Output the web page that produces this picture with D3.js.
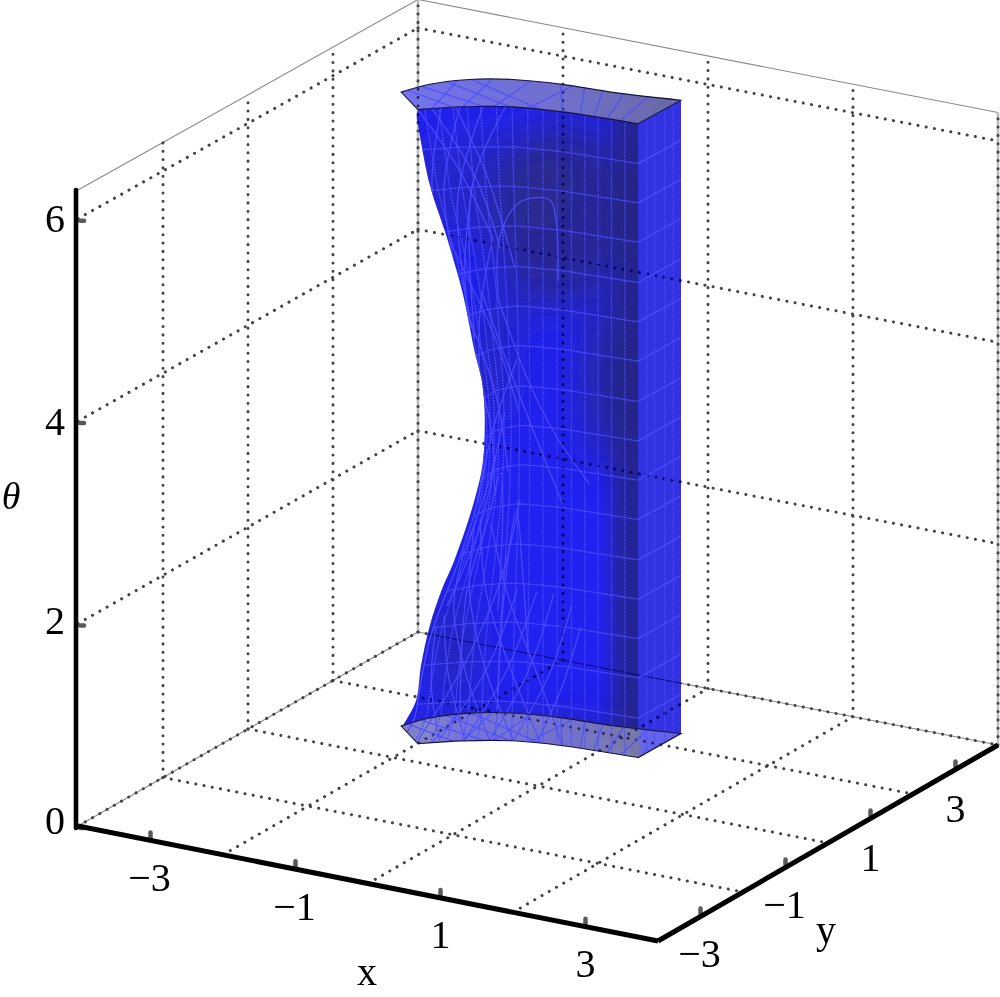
<!DOCTYPE html>
<html><head><meta charset="utf-8">
<script src="https://cdn.jsdelivr.net/npm/d3@7/dist/d3.min.js"></script>
<style>html,body{margin:0;padding:0;background:#fff;overflow:hidden}svg{display:block}text{font-family:"Liberation Serif","Times New Roman",serif;fill:#000}</style>
</head><body><svg id="c" width="1000" height="997"></svg>
<script>
// ---- data ----
const xTicks=[-3,-1,1,3], yTicks=[-3,-1,1,3], zTicks=[0,2,4,6];
const xGrid=[-2,0,2], yGrid=[-2,0,2], zGrid=[2,4,6];
const zMax=6.283, thetaMax=6.285;
// cross section of the solid (x,y), read from the end faces
const backX=[-2.48,-2.33,-2.01,-1.57,-0.97,-0.31,0.53];
const backY=[1.01,1.43,1.82,2.08,2.23,2.29,2.46];
const frontU=[0,0.2,0.43,0.66,1];
const frontX=[-1.99,-1.58,-1.07,-0.47,0.52];
const frontY=[0.57,0.93,1.23,1.38,1.47];
// left silhouette (theta, x at y=1)
const silTheta=[0,0.28,0.64,1.05,1.42,1.74,2.34,2.76,3.22,3.58,3.86,4.40,4.93,5.43,6.075];
const silX=[-2.46,-2.27,-2.20,-2.08,-1.92,-1.745,-1.48,-1.35,-1.32,-1.36,-1.46,-1.62,-1.84,-2.08,-2.26];
// wire-frame
const rowTheta=[0.39,0.79,1.18,1.57,1.96,2.36,2.75,3.14,3.53,3.93,4.32,4.71,5.11,5.50,5.89];
const colU=[0.05,0.11,0.17,0.23,0.29,0.36,0.43,0.50,0.57,0.635,0.70,0.76,0.82,0.88,0.94];
const sideV=[0.2,0.38,0.62,0.82];
const chords=[
 [[.12,6.28],[.02,5.5],[0,4.9]],[[.2,6.28],[.08,5.5],[.02,4.6]],[[.3,6.28],[.14,5.4],[.04,4.2]],[[.4,6.28],[.22,5.5],[.06,4.1]],
 [[.02,6.28],[.16,5.7],[.3,5.0]],[[.08,6.28],[.24,5.6],[.34,4.9]],[[.18,6.28],[.3,5.6],[.42,4.7]],
 [[.34,2.7],[.2,3.5],[.02,4.4]],[[.22,2.5],[.12,3.2],[.01,3.8]],[[.42,3.3],[.26,4.0],[.04,5.0]],
 [[.02,1.9],[.14,2.7],[.3,3.3]],[[.02,2.5],[.16,3.2],[.42,3.8]],[[.04,1.4],[.12,2.2],[.2,2.9]],
 [[.02,3.7],[.14,4.3],[.3,5.0]],[[.02,4.2],[.1,4.8],[.22,5.5]],
 [[.3,4.4],[.48,3.63],[.62,3.1],[.78,2.64]],[[.18,4.5],[.36,3.7],[.52,3.1],[.66,2.4]],
 [[.06,0],[.2,.8],[.34,1.6],[.44,2.4]],[[.14,0],[.3,.7],[.44,1.5]],[[.24,0],[.4,.7],[.54,1.5]],[[.34,0],[.5,.7],[.62,1.5]],[[.44,0],[.6,.7],[.7,1.4]],[[.54,0],[.66,.6],[.74,1.2]],
 [[.44,0],[.3,.7],[.16,1.5],[.04,2.3]],[[.34,0],[.2,.7],[.08,1.4],[.02,2.0]],[[.56,0],[.42,.7],[.26,1.5],[.1,2.3]],[[.66,0],[.54,.7],[.4,1.4],[.22,2.2]],[[.24,0],[.12,.7],[.04,1.3]],[[.14,0],[.05,.6],[.01,1.2]],
 [[.2,.2],[.14,1.5],[.18,2.2],[.27,2.7],[.32,2.2],[.34,1.3]],[[.36,.3],[.37,1.6],[.42,2.3],[.46,1.8],[.5,.9]],
 [[.3,4.4],[.34,5.0],[.46,5.35],[.6,5.4],[.63,5.2],[.64,4.6]]
];
const faceChords=[[.06,.28],[.16,.04],[.2,.42],[.3,.12],[.34,.56],[.42,.24],[.5,.7],[.56,.34],[.66,.66],[.74,.74],[.8,.8],[.86,.86],[.92,.92]];
// shading blobs on the face: u, theta, rx, ry, opacity
const shade=[[.68,5.3,75,90,.75],[.88,3.7,28,85,.7],[.3,5.5,90,55,.3],[.2,3.8,16,60,.6],[.13,.95,14,55,.8],[.5,.05,130,16,.55],[.46,4.5,30,40,.3]];
const zLabelShift=[7.5,10.5,13.5,13.5];

// ---- scales ----
const xH=d3.scaleLinear([-4,4],[78,658]), xV=d3.scaleLinear([-4,4],[826,941]);
const yH=d3.scaleLinear([-4,4],[0,340]),  yV=d3.scaleLinear([-4,4],[0,-194]);
const zV=d3.scaleLinear([0,zMax],[0,-636]);
const yShrink=d3.scaleLinear([-4,4],[1,0.9945]);
const yFrac=d3.scaleLinear([-4,4],[0,1]), xCross=d3.scaleLinear([-4,4],[0,-2]);
const P=(x,y,z)=>[xH(x)+yH(y), xV(x)+yV(y)+xCross(x)*yFrac(y)+zV(z)*yShrink(y)];
const fx=d3.scaleLinear(frontU,frontX), fy=d3.scaleLinear(frontU,frontY);
const sil=d3.scaleLinear(silTheta,silX);
const warp=u=>Math.pow(Math.max(0,1-u/0.55),1.5);
const surf=(u,t)=>{const o=(sil(t)+.25+1.99)*warp(u);return P(fx(u)+o,fy(u),t)};
const line=d3.line(), smooth=d3.line().curve(d3.curveCatmullRom);
const svg=d3.select("#c"), defs=svg.append("defs");

// ---- outline pieces ----
const backU=backX.map((_,i)=>i/(backX.length-1));
const frontPts=t=>frontU.map((_,i)=>P(frontX[i],frontY[i],t));
const backPts=t=>backX.map((_,i)=>P(backX[i],backY[i],t));
const join=(...segs)=>segs.map((s,i)=>{const d=smooth(s);return i?d.replace(/^M/,"L"):d}).join("");
const silPts=silTheta.map((t,i)=>P(silX[i],1,t));
const bodyD=join(frontPts(thetaMax),[backPts(thetaMax)[6],backPts(0)[6]],backPts(0).slice().reverse(),silPts,[silPts[silPts.length-1],frontPts(thetaMax)[0]])+"Z";
const faceD=t=>join(backPts(t),[backPts(t)[6],frontPts(t)[4]],frontPts(t).slice().reverse(),[frontPts(t)[0],backPts(t)[0]])+"Z";
const frontFaceD=join(frontPts(thetaMax),[frontPts(thetaMax)[4],frontPts(0)[4]],[frontPts(0)[4],backPts(0)[4]],backPts(0).slice(0,5).reverse(),silPts,[silPts[silPts.length-1],frontPts(thetaMax)[0]])+"Z";
const corner=(t)=>P(frontX[4],frontY[4],t), cornerB=(t)=>P(backX[6],backY[6],t);
const sideD=line([corner(thetaMax),cornerB(thetaMax),cornerB(0),corner(0)])+"Z";

defs.append("clipPath").attr("id","bodyClip").append("path").attr("d",bodyD);
defs.append("clipPath").attr("id","allClip").selectAll("path").data([bodyD,faceD(0),faceD(thetaMax)]).join("path").attr("d",d=>d);
defs.append("clipPath").attr("id","frontClip").append("path").attr("d",frontFaceD);
const blur=defs.append("filter").attr("id","blur").attr("x","-60%").attr("y","-60%").attr("width","220%").attr("height","220%");
blur.append("feGaussianBlur").attr("stdDeviation",20);
const grad=(id,x1,x2,stops)=>{const g=defs.append("linearGradient").attr("id",id).attr("gradientUnits","userSpaceOnUse").attr("x1",x1).attr("x2",x2).attr("y1",0).attr("y2",0);
 stops.forEach(s=>g.append("stop").attr("offset",s[0]).attr("stop-color",s[1]).attr("stop-opacity",s[2]==null?1:s[2]));};
grad("topG",401,682,[[0,"#6f6fee"],[.3,"#6b6bdb"],[.6,"#6a6ac8"],[1,"#63639f"]]);
grad("botG",401,682,[[0,"#7878c8"],[.1,"#8080c4"],[.2,"#6f6fd8"],[.6,"#6c6cc8"],[.84,"#7a7aa8"],[.86,"#6666ee"],[1,"#6363f2"]]);
grad("bandG",600,640,[[0,"#25257a",0],[.6,"#25257a",.72],[1,"#25257a",.8]]);

// ---- box and grid ----
const dotStyle=(s,color,w)=>s.attr("fill","none").attr("stroke",color).attr("stroke-width",w).attr("stroke-linecap","round").attr("stroke-dasharray","0.1 8.25");
function grid(g,color,w){
 const dotted=(a,b)=>dotStyle(g.append("path").attr("d",line([a,b])),color,w);
 xGrid.forEach(x=>{dotted(P(x,-4,0),P(x,4,0));dotted(P(x,4,0),P(x,4,zMax));});
 yGrid.forEach(y=>{dotted(P(-4,y,0),P(4,y,0));dotted(P(-4,y,0),P(-4,y,zMax));});
 zGrid.forEach(z=>{dotted(P(-4,-4,z),P(-4,4,z));dotted(P(-4,4,z),P(4,4,z));});
}
const under=svg.append("g");
const solidEdge=(a,b,c,w)=>under.append("path").attr("d",line([a,b])).attr("stroke",c).attr("stroke-width",w).attr("fill","none");
solidEdge(P(-4,-4,zMax),P(-4,4,zMax),"#8a8a8a",1.1);
solidEdge(P(-4,4,zMax),P(4,4,zMax),"#8a8a8a",1.1);
solidEdge(P(-4,-4,0),P(-4,4,0),"#8a8a8a",1.1);
solidEdge(P(-4,4,0),P(4,4,0),"#8a8a8a",1.1);
solidEdge(P(-4,4,0),P(-4,4,zMax),"#bdbdbd",2.6);
solidEdge(P(4,4,0),P(4,4,zMax),"#bdbdbd",2.6);
[[P(-4,-4,0),P(-4,4,0)],[P(-4,4,0),P(4,4,0)],[P(-4,4,0),P(-4,4,zMax)],[P(4,4,0),P(4,4,zMax)]].forEach(s=>dotStyle(under.append("path").attr("d",line(s)),"#444",3));
grid(under,"#444",3);

// ---- solid ----
const solid=svg.append("g");
solid.append("path").attr("d",bodyD).attr("fill","#2222f0");
const sh=solid.append("g").attr("clip-path","url(#frontClip)");
const blobs=sh.append("g").attr("filter","url(#blur)");
shade.forEach(b=>{const p=surf(b[0],b[1]);blobs.append("ellipse").attr("cx",p[0]).attr("cy",p[1]).attr("rx",b[2]).attr("ry",b[3]).attr("fill","#2a2a78").attr("opacity",b[4]);});
sh.append("rect").attr("x",600).attr("y",60).attr("width",40).attr("height",720).attr("fill","url(#bandG)");
solid.append("path").attr("d",sideD).attr("fill","#3232e2");

// see-through grid
const thru=svg.append("g").attr("clip-path","url(#bodyClip)");
grid(thru,"#08086a",3.1);
dotStyle(thru.append("path").attr("d",line([P(-4,4,0),P(-4,4,zMax)])),"#08086a",3);
thru.append("path").attr("d",line([P(-4,4,0),P(4,4,0)])).attr("stroke","#0a0a70").attr("stroke-width",1).attr("fill","none");

// end faces
[[0,"url(#botG)"],[thetaMax,"url(#topG)"]].forEach(([t,f])=>{
 svg.append("path").attr("d",faceD(t)).attr("fill",f).attr("fill-opacity",0.96);
});
defs.append("clipPath").attr("id","botClip").append("path").attr("d",faceD(0));
defs.append("clipPath").attr("id","topClip").append("path").attr("d",faceD(thetaMax));
grid(svg.append("g").attr("clip-path","url(#botClip)"),"#26265e",2.8);
grid(svg.append("g").attr("clip-path","url(#topClip)"),"#26265e",2.8);
dotStyle(svg.append("g").attr("clip-path","url(#topClip)").append("path").attr("d",line([P(-4,4,0),P(-4,4,zMax)])),"#26265e",2.8);

// ---- wire-frame ----
const mesh=svg.append("g").attr("clip-path","url(#allClip)").attr("fill","none").attr("stroke","#4c4cff").attr("stroke-width",1.25);
const samples=d3.range(0,1.0001,0.05);
rowTheta.forEach(t=>{
 mesh.append("path").attr("d",smooth(samples.map(u=>surf(u,t)))).attr("stroke-dasharray","2.5 0.7");
 mesh.append("path").attr("d",line([corner(t),cornerB(t)]));
});
const ths=d3.range(0,thetaMax+.001,thetaMax/24);
colU.forEach((u,i)=>{
 mesh.append("path").attr("d",smooth(ths.map(t=>surf(u,t)))).attr("stroke-dasharray",i>6?"1.3 1.1":"2 1");
});
mesh.append("path").attr("d",smooth(ths.map(t=>surf(0,t))));
sideV.forEach(v=>{
 const a=d3.interpolate(corner(thetaMax),cornerB(thetaMax)),b=d3.interpolate(corner(0),cornerB(0));
 mesh.append("path").attr("d",line([a(v),b(v)])).attr("stroke-dasharray","1.3 1.1");
});
chords.forEach(c=>mesh.append("path").attr("d",smooth(c.map(p=>surf(p[0],p[1])))).attr("opacity",.9));
const backAt=d3.scaleLinear(backU,backX), backAtY=d3.scaleLinear(backU,backY);
[0,thetaMax].forEach(t=>faceChords.forEach(fc=>{
 mesh.append("path").attr("d",line([P(fx(fc[0]),fy(fc[0]),t),P(backAt(fc[1]),backAtY(fc[1]),t)])).attr("opacity",.85);
}));

// edges of end faces
[0,thetaMax].forEach(t=>svg.append("path").attr("d",faceD(t)).attr("fill","none").attr("stroke","#15153a").attr("stroke-width",1.1));

// ---- axes ----
const ax=svg.append("g");
const tick=(a,b)=>ax.append("path").attr("d",line([a,b])).attr("stroke","#5a5a5a").attr("stroke-width",4.5).attr("stroke-linecap","round").attr("fill","none");
xTicks.forEach(v=>{const p=P(v,-4,0);tick([p[0],p[1]-3],[p[0],p[1]-8]);});
yTicks.forEach(v=>{const p=P(4,v,0);tick([p[0],p[1]-3],[p[0],p[1]-8]);});
zTicks.forEach((v,i)=>{const p=P(-4,-4,v);tick([p[0]+2,p[1]+2],[p[0]+6,p[1]+2]);});
const axis=(a,b)=>ax.append("path").attr("d",line([a,b])).attr("stroke","#000").attr("stroke-width",5).attr("stroke-linecap","butt").attr("fill","none");
axis(P(-4,-4,0),P(4,-4,0));axis(P(4,-4,0),P(4,4,0));
ax.append("path").attr("d",line([[P(-4,-4,0)[0]-2,P(-4,-4,0)[1]+2],[P(-4,-4,zMax)[0]-2,P(-4,-4,zMax)[1]]])).attr("stroke","#000").attr("stroke-width",4.6).attr("stroke-linecap","round");

const lab=(t,x,y,o={})=>svg.append("text").text(t).attr("x",x).attr("y",y).attr("text-anchor","middle").attr("font-size",o.size||40).attr("font-style",o.style||null);
const fmt=v=>v<0?"\u2212"+(-v):""+v;
xTicks.forEach(v=>{const p=P(v,-4,0);lab(fmt(v),p[0]+(v<0?-1:0),p[1]+(v<0?51:50));});
yTicks.forEach(v=>{const p=P(4,v,0);lab(fmt(v),p[0]+(v<0?-1:0),p[1]+(v<0?50:52));});
zTicks.forEach((v,i)=>{const p=P(-4,-4,v);lab(fmt(v),55,p[1]+zLabelShift[i]);});
lab("x",367,985,{size:40});
lab("y",826,943,{size:40});
lab("\u03b8",11,509,{size:38,style:"italic"});
</script></body></html>
